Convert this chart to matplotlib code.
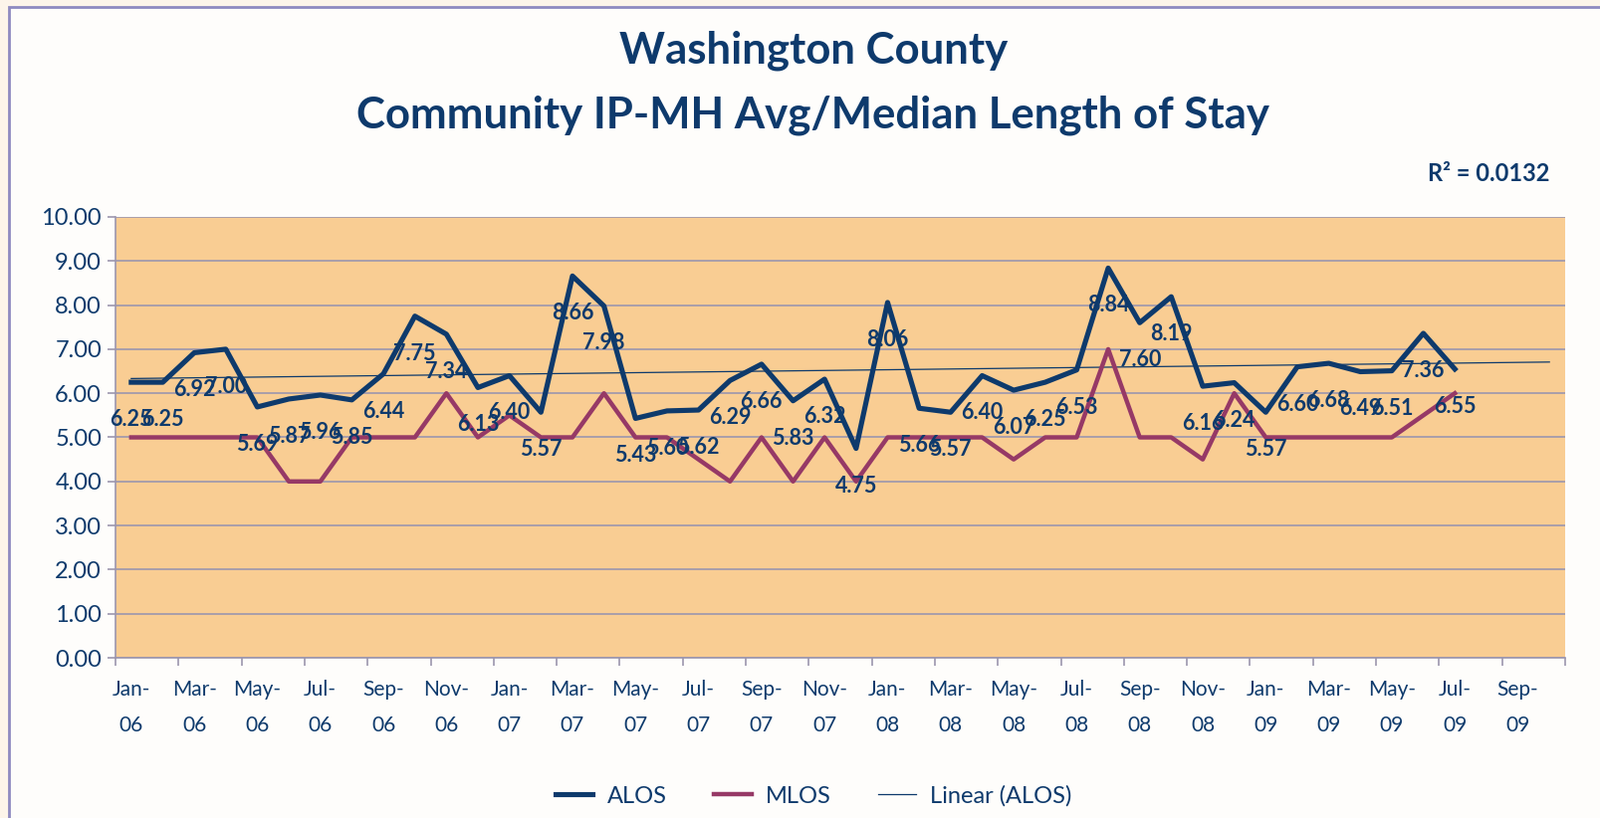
import numpy as np
import matplotlib.pyplot as plt
from matplotlib.patches import Rectangle

# monthly categories Jan-06 .. Oct-09 (axis has 46 slots, data through Jul-09)
months = ['Jan', 'Feb', 'Mar', 'Apr', 'May', 'Jun', 'Jul', 'Aug', 'Sep', 'Oct', 'Nov', 'Dec']
years = ['06', '07', '08', '09']
categories = [m + '-' + y for y in years for m in months][:46]

alos = [6.25, 6.25, 6.92, 7.00, 5.69, 5.87, 5.96, 5.85, 6.44, 7.75, 7.34, 6.13,
        6.40, 5.57, 8.66, 7.98, 5.43, 5.60, 5.62, 6.29, 6.66, 5.83, 6.32, 4.75,
        8.06, 5.66, 5.57, 6.40, 6.07, 6.25, 6.53, 8.84, 7.60, 8.19, 6.16, 6.24,
        5.57, 6.60, 6.68, 6.49, 6.51, 7.36, 6.55]
mlos = [5, 5, 5, 5, 5, 4, 4, 5, 5, 5, 6, 5,
        5.5, 5, 5, 6, 5, 5, 4.5, 4, 5, 4, 5, 4,
        5, 5, 5, 5, 4.5, 5, 5, 7, 5, 5, 4.5, 6,
        5, 5, 5, 5, 5, 5.5, 6]
r2_text = 'R² = 0.0132'

navy = '#0E3A6C'
maroon = '#963966'
grid_c = '#9C96AE'

plt.rcParams['font.family'] = ['Lato', 'DejaVu Sans']

fig = plt.figure(figsize=(16.08, 8.22), dpi=100)
fig.patch.set_facecolor('#FDF5EA')
fig.patches.append(Rectangle((9 / 1608, -0.1), 1.0, 1.1 - 7 / 822, transform=fig.transFigure,
                             facecolor='#FEFDFB', edgecolor='#8E8AC0', linewidth=2, zorder=-5))

ax = fig.add_axes([116 / 1608, 1 - 661 / 822, (1572 - 116) / 1608, (661 - 218) / 822])
ax.set_zorder(2)
ax.set_facecolor('#F9CD93')

x = np.arange(len(alos))
ax.plot(x, alos, color=navy, lw=3.7, label='ALOS', zorder=4)
ax.plot(x, mlos, color=maroon, lw=3.2, label='MLOS', zorder=3)

# linear trendline, forecast to the end of the axis
coef = np.polyfit(x + 1, alos, 1)
xt = np.arange(len(categories))
ax.plot(xt, np.polyval(coef, xt + 1), color=navy, lw=0.9, label='Linear (ALOS)', zorder=2)

for xi, v in zip(x, alos):
    ax.annotate('%.2f' % v, (xi, v), xytext=(0, -27), textcoords='offset points',
                ha='center', va='center', fontsize=15.5, fontweight='bold', color=navy, zorder=5)

ax.set_xlim(-0.5, len(categories) - 0.5)
ax.set_ylim(0, 10)
ax.set_yticks(np.arange(0, 11, 1))
ax.set_yticklabels(['%.2f' % v for v in np.arange(0, 11, 1)], fontsize=17, color=navy)
ax.set_xticks(np.arange(0, len(categories), 2))
ax.set_xticklabels([c.replace('-', '-\n') for c in categories[::2]], fontsize=15,
                   color=navy, linespacing=2.0)
ax.set_xticks(np.arange(-0.5, len(categories), 2), minor=True)
ax.tick_params(axis='x', which='major', length=0, pad=16)
ax.tick_params(axis='x', which='minor', length=6, color=grid_c, width=1.2)
ax.tick_params(axis='y', length=6, color=grid_c, width=1.2, pad=4)
ax.grid(axis='y', color=grid_c, lw=1.2, zorder=1)
ax.set_axisbelow(True)
for s in ['top', 'right']:
    ax.spines[s].set_visible(False)
ax.spines['left'].set_color(grid_c)
ax.spines['bottom'].set_color(grid_c)
ax.spines['left'].set_linewidth(1.2)
ax.spines['bottom'].set_linewidth(1.2)

fig.text(0.508, 1 - 51 / 822, 'Washington County', ha='center', va='center',
         fontsize=31.5, fontweight='bold', color=navy)
fig.text(0.508, 1 - 116 / 822, 'Community IP-MH Avg/Median Length of Stay', ha='center',
         va='center', fontsize=31.5, fontweight='bold', color=navy)
fig.text(1495 / 1608, 1 - 174 / 822, r2_text, ha='center', va='center',
         fontsize=17, fontweight='bold', color=navy)

fig.legend(loc='center', bbox_to_anchor=(0.508, 1 - 800 / 822), ncol=3, frameon=False,
           fontsize=17, labelcolor=navy, handlelength=1.6, handletextpad=0.6,
           columnspacing=2.0)

fig.savefig('out.png', dpi=100, facecolor=fig.get_facecolor())
